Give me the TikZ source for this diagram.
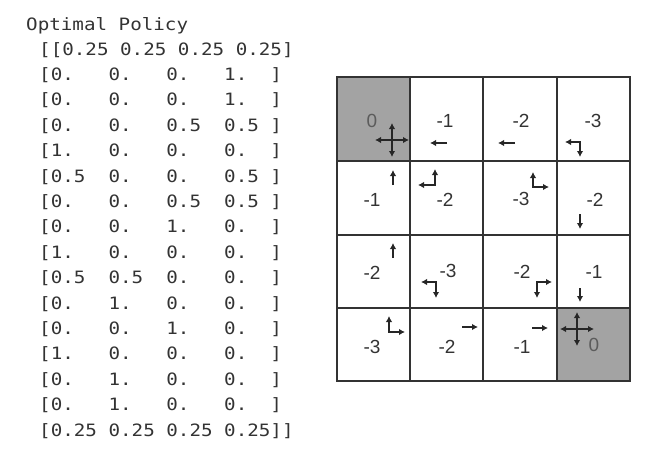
\documentclass[tikz,border=0pt]{standalone}
\usepackage{fontspec}
\setmainfont{Liberation Sans}
\newfontfamily\codefont[FakeStretch=1.13]{DejaVu Sans Mono}
\usepackage{xcolor}
\usetikzlibrary{arrows.meta,positioning}
\definecolor{cellgray}{RGB}{163,163,163}
\definecolor{inkgray}{RGB}{51,51,51}

\begin{document}
\begin{tikzpicture}[
  x=1pt, y=-1pt,
  cell/.style={draw=inkgray, line width=1.8pt, minimum width=73.25pt, inner sep=0pt},
  goal/.style={cell, fill=cellgray},
  val/.style={font=\fontsize{19}{19}\selectfont, text=inkgray, inner sep=0pt},
  act/.style={draw=black!85, line width=1.7pt, -{Latex[length=6pt,width=6.5pt]}},
  dual/.style={act, {Latex[length=6pt,width=6.5pt]}-{Latex[length=6pt,width=6.5pt]}},
  code/.style={anchor=base west, inner sep=0pt, font=\codefont\fontsize{17}{17}\selectfont, text=inkgray}
]
  \useasboundingbox (0,0) rectangle (647,456);

  % Printed policy
  \node[code] (title) at (26,30) {Optimal~Policy};
  \node[code] (p0) at (39,55) {[[0.25~0.25~0.25~0.25]};
  \node[code] (p1) at (39,80.4) {[0.~~~0.~~~0.~~~1.~~]};
  \node[code] (p2) at (39,105.8) {[0.~~~0.~~~0.~~~1.~~]};
  \node[code] (p3) at (39,131.2) {[0.~~~0.~~~0.5~~0.5~]};
  \node[code] (p4) at (39,156.6) {[1.~~~0.~~~0.~~~0.~~]};
  \node[code] (p5) at (39,182) {[0.5~~0.~~~0.~~~0.5~]};
  \node[code] (p6) at (39,207.4) {[0.~~~0.~~~0.5~~0.5~]};
  \node[code] (p7) at (39,232.8) {[0.~~~0.~~~1.~~~0.~~]};
  \node[code] (p8) at (39,258.2) {[1.~~~0.~~~0.~~~0.~~]};
  \node[code] (p9) at (39,283.6) {[0.5~~0.5~~0.~~~0.~~]};
  \node[code] (p10) at (39,309) {[0.~~~1.~~~0.~~~0.~~]};
  \node[code] (p11) at (39,334.4) {[0.~~~0.~~~1.~~~0.~~]};
  \node[code] (p12) at (39,359.8) {[1.~~~0.~~~0.~~~0.~~]};
  \node[code] (p13) at (39,385.2) {[0.~~~1.~~~0.~~~0.~~]};
  \node[code] (p14) at (39,410.6) {[0.~~~1.~~~0.~~~0.~~]};
  \node[code] (p15) at (39,436) {[0.25~0.25~0.25~0.25]]};

  % Grid cells
  \node[goal, minimum height=84pt] (c0) at (373.5,119) {};
  \node[cell, minimum height=84pt] (c1) at (446.75,119) {};
  \node[cell, minimum height=84pt] (c2) at (520,119) {};
  \node[cell, minimum height=84pt] (c3) at (593.25,119) {};
  \node[cell, minimum height=74pt] (c4) at (373.5,198) {};
  \node[cell, minimum height=74pt] (c5) at (446.75,198) {};
  \node[cell, minimum height=74pt] (c6) at (520,198) {};
  \node[cell, minimum height=74pt] (c7) at (593.25,198) {};
  \node[cell, minimum height=73pt] (c8) at (373.5,271.5) {};
  \node[cell, minimum height=73pt] (c9) at (446.75,271.5) {};
  \node[cell, minimum height=73pt] (c10) at (520,271.5) {};
  \node[cell, minimum height=73pt] (c11) at (593.25,271.5) {};
  \node[cell, minimum height=73pt] (c12) at (373.5,344.5) {};
  \node[cell, minimum height=73pt] (c13) at (446.75,344.5) {};
  \node[cell, minimum height=73pt] (c14) at (520,344.5) {};
  \node[goal, minimum height=73pt] (c15) at (593.25,344.5) {};

  % State values
  \node[val, text=inkgray!80] (v0) at (372,121) {0};
  \node[val] (v1) at (445,121) {-1};
  \node[val] (v2) at (521,121) {-2};
  \node[val] (v3) at (593,121) {-3};
  \node[val] (v4) at (372,200) {-1};
  \node[val] (v5) at (445,200) {-2};
  \node[val] (v6) at (521,199) {-3};
  \node[val] (v7) at (595,200) {-2};
  \node[val] (v8) at (372,273) {-2};
  \node[val] (v9) at (448,271) {-3};
  \node[val] (v10) at (522,272) {-2};
  \node[val] (v11) at (594,272) {-1};
  \node[val] (v12) at (372,347) {-3};
  \node[val] (v13) at (447,347) {-2};
  \node[val] (v14) at (522,347) {-1};
  \node[val, text=inkgray!80] (v15) at (594,345) {0};

  % Greedy actions
  \coordinate (a0) at (392,140);
  \coordinate (a1) at (447,143);
  \coordinate (a2) at (515,143);
  \coordinate (a3) at (580,142);
  \coordinate (a4) at (393,185);
  \coordinate (a5) at (435,185);
  \coordinate (a6) at (533,187);
  \coordinate (a7) at (580,214);
  \coordinate (a8) at (393,258);
  \coordinate (a9) at (436,282);
  \coordinate (a10) at (537,282);
  \coordinate (a11) at (580,288);
  \coordinate (a12) at (389,332);
  \coordinate (a13) at (462,327);
  \coordinate (a14) at (532,328);
  \coordinate (a15) at (577,329);

  \draw[act] (a0) -- ++(0,-17);
  \draw[act] (a0) -- ++(0,17);
  \draw[act] (a0) -- ++(-17,0);
  \draw[act] (a0) -- ++(17,0);
  \draw[act] (a1) -- ++(-17,0);
  \draw[act] (a2) -- ++(-17,0);
  \draw[dual] ([shift={(-15,0)}]a3) -- (a3) -- ([shift={(0,15)}]a3);
  \draw[act] (a4) -- ++(0,-15);
  \draw[dual] ([shift={(-17,0)}]a5) -- (a5) -- ([shift={(0,-16)}]a5);
  \draw[dual] ([shift={(0,-15)}]a6) -- (a6) -- ([shift={(16,0)}]a6);
  \draw[act] (a7) -- ++(0,15);
  \draw[act] (a8) -- ++(0,-15);
  \draw[dual] ([shift={(-15,0)}]a9) -- (a9) -- ([shift={(0,16)}]a9);
  \draw[dual] ([shift={(15,0)}]a10) -- (a10) -- ([shift={(0,16)}]a10);
  \draw[act] (a11) -- ++(0,14);
  \draw[dual] ([shift={(0,-16)}]a12) -- (a12) -- ([shift={(16,0)}]a12);
  \draw[act] (a13) -- ++(16,0);
  \draw[act] (a14) -- ++(16,0);
  \draw[act] (a15) -- ++(0,-17);
  \draw[act] (a15) -- ++(0,17);
  \draw[act] (a15) -- ++(-17,0);
  \draw[act] (a15) -- ++(17,0);
\end{tikzpicture}
\end{document}
